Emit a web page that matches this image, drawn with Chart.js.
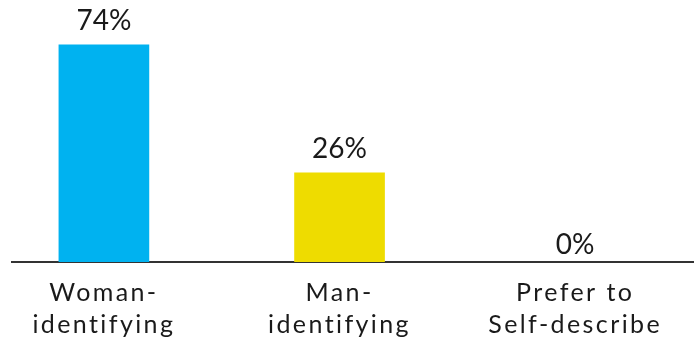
<!DOCTYPE html>
<html>
<head>
<meta charset="utf-8">
<script src="https://cdn.jsdelivr.net/npm/chart.js@4"></script>
<style>
  html, body { margin: 0; padding: 0; background: #fff; }
  #wrap { width: 699px; height: 342px; }
</style>
</head>
<body>
<div id="wrap"><canvas id="genderChart"></canvas></div>
<script>
// Respondent gender split
const categories = [['Woman-', 'identifying'], ['Man-', 'identifying'], ['Prefer to', 'Self-describe']];
const percentages = [74, 26, 0];
const barColors = ['#00b2f0', '#eedc00', '#00b2f0'];

// bars rise from the axis line, which sits a little below zero
const yMin = -7.4;
const yMax = 90.8;

// the labels in the original are set wide
const wideText = {
    id: 'wideText',
    beforeDraw(chart) {
        chart.ctx.letterSpacing = '2.4px';
    }
};

const valueLabels = {
    id: 'valueLabels',
    afterDatasetsDraw(chart) {
        const ctx = chart.ctx;
        const meta = chart.getDatasetMeta(0);
        ctx.save();
        ctx.letterSpacing = '0px';
        ctx.font = '28px Lato';
        ctx.fillStyle = '#1a1a1a';
        ctx.textAlign = 'center';
        ctx.textBaseline = 'alphabetic';
        meta.data.forEach((bar, i) => {
            const v = percentages[i];
            const y = v > 0 ? bar.y - 15 : bar.base - 8;
            ctx.fillText(v + '%', bar.x, y);
        });
        ctx.restore();
    }
};

const ctx = document.getElementById('genderChart').getContext('2d');
new Chart(ctx, {
    type: 'bar',
    data: {
        datasets: [{
            data: percentages.map((v, i) => ({ x: i, y: v })),
            base: yMin,
            backgroundColor: c => (c.raw && c.raw.y > 0) ? barColors[c.dataIndex] : 'rgba(0,0,0,0)',
            barThickness: 90,
            borderWidth: 0
        }]
    },
    options: {
        responsive: true,
        maintainAspectRatio: false,
        animation: false,
        layout: {
            padding: { left: 12, right: 6, top: 0, bottom: 0 }
        },
        plugins: {
            legend: { display: false },
            tooltip: { enabled: false }
        },
        scales: {
            x: {
                type: 'linear',
                offset: false,
                min: -0.39,
                max: 2.5,
                afterBuildTicks: s => { s.ticks = categories.map((c, i) => ({ value: i })); },
                afterFit: s => { s.height = 80; },
                ticks: {
                    callback: v => categories[v],
                    color: '#1a1a1a',
                    font: { family: 'Lato', size: 25, lineHeight: 1.28 },
                    maxRotation: 0,
                    autoSkip: false,
                    padding: 15
                },
                grid: { display: false, drawTicks: false },
                border: { color: '#333333', width: 2 }
            },
            y: {
                display: false,
                min: yMin,
                max: yMax
            }
        }
    },
    plugins: [wideText, valueLabels]
});
</script>
</body>
</html>
